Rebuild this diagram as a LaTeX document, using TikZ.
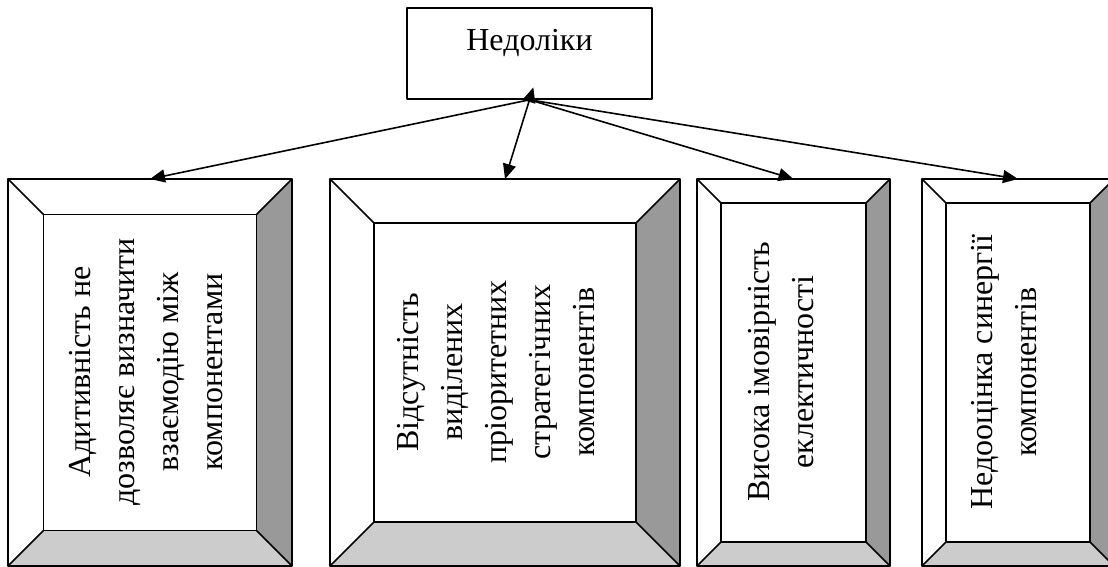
\documentclass[tikz,border=0pt]{standalone}
\usepackage{fontspec}
\setmainfont{Liberation Serif}
\usetikzlibrary{arrows.meta}

\begin{document}
\begin{tikzpicture}[x=1pt, y=-1pt,
		font=\fontsize{32pt}{44pt}\selectfont,
		>={Triangle[length=15pt, width=13pt]},
		edge/.style={line width=1.6pt, line join=round},
		frame/.style={rectangle, inner sep=0pt, outer sep=0pt},
		darkside/.style={fill=black!40},
		lightside/.style={fill=black!20},
		label/.style={rotate=90, align=center, inner sep=0pt}]

		\useasboundingbox (0,0) rectangle (1108,567);

		\node [draw, edge, minimum width=245, minimum height=91, text depth=28pt] (nedoliky) at (529.5, 53.5) {Недоліки};

		% first box
		\node [frame, minimum width=284, minimum height=387] (adit) at (150, 372.5) {};
		\node [frame, minimum width=213, minimum height=316] (aditIn) at (150, 372.5) {};
		\fill [darkside] (adit.north east) -- (adit.south east) -- (aditIn.south east) -- (aditIn.north east) -- cycle;
		\fill [lightside] (adit.south west) -- (adit.south east) -- (aditIn.south east) -- (aditIn.south west) -- cycle;
		\draw [edge] (adit.north west) rectangle (adit.south east) (aditIn.north west) rectangle (aditIn.south east);
		\draw [edge] (adit.north west) -- (aditIn.north west) (adit.north east) -- (aditIn.north east) (adit.south west) -- (aditIn.south west) (adit.south east) -- (aditIn.south east);
		\node [label] (aditTxt) at (146, 372) {Адитивність не\\дозволяє визначити\\взаємодію між\\компонентами};

		% second box
		\node [frame, minimum width=350, minimum height=387] (vidsut) at (505, 372.5) {};
		\node [frame, minimum width=262.5, minimum height=299.5] (vidsutIn) at (505, 372.5) {};
		\fill [darkside] (vidsut.north east) -- (vidsut.south east) -- (vidsutIn.south east) -- (vidsutIn.north east) -- cycle;
		\fill [lightside] (vidsut.south west) -- (vidsut.south east) -- (vidsutIn.south east) -- (vidsutIn.south west) -- cycle;
		\draw [edge] (vidsut.north west) rectangle (vidsut.south east) (vidsutIn.north west) rectangle (vidsutIn.south east);
		\draw [edge] (vidsut.north west) -- (vidsutIn.north west) (vidsut.north east) -- (vidsutIn.north east) (vidsut.south west) -- (vidsutIn.south west) (vidsut.south east) -- (vidsutIn.south east);
		\node [label] (vidsutTxt) at (496, 372) {Відсутність\\виділених\\пріоритетних\\стратегічних\\компонентів};

		% third box
		\node [frame, minimum width=193, minimum height=387] (vysoka) at (793.5, 372.5) {};
		\node [frame, minimum width=145, minimum height=339] (vysokaIn) at (793.5, 372.5) {};
		\fill [darkside] (vysoka.north east) -- (vysoka.south east) -- (vysokaIn.south east) -- (vysokaIn.north east) -- cycle;
		\fill [lightside] (vysoka.south west) -- (vysoka.south east) -- (vysokaIn.south east) -- (vysokaIn.south west) -- cycle;
		\draw [edge] (vysoka.north west) rectangle (vysoka.south east) (vysokaIn.north west) rectangle (vysokaIn.south east);
		\draw [edge] (vysoka.north west) -- (vysokaIn.north west) (vysoka.north east) -- (vysokaIn.north east) (vysoka.south west) -- (vysokaIn.south west) (vysoka.south east) -- (vysokaIn.south east);
		\node [label] (vysokaTxt) at (781, 372) {Висока імовірність\\еклектичності};

		% fourth box
		\node [frame, minimum width=192, minimum height=387] (nedoots) at (1018, 372.5) {};
		\node [frame, minimum width=144, minimum height=339] (nedootsIn) at (1018, 372.5) {};
		\fill [darkside] (nedoots.north east) -- (nedoots.south east) -- (nedootsIn.south east) -- (nedootsIn.north east) -- cycle;
		\fill [lightside] (nedoots.south west) -- (nedoots.south east) -- (nedootsIn.south east) -- (nedootsIn.south west) -- cycle;
		\draw [edge] (nedoots.north west) rectangle (nedoots.south east) (nedootsIn.north west) rectangle (nedootsIn.south east);
		\draw [edge] (nedoots.north west) -- (nedootsIn.north west) (nedoots.north east) -- (nedootsIn.north east) (nedoots.south west) -- (nedootsIn.south west) (nedoots.south east) -- (nedootsIn.south east);
		\node [label] (nedootsTxt) at (1004, 372) {Недооцінка синергії\\компонентів};

		\draw [edge, ->] (nedoliky.south) -- (adit.north);
		\draw [edge, <->, shorten <=-13pt] (nedoliky.south) -- (vidsut.north);
		\draw [edge, ->] (nedoliky.south) -- (vysoka.north);
		\draw [edge, ->] (nedoliky.south) -- (nedoots.north);

\end{tikzpicture}
\end{document}
